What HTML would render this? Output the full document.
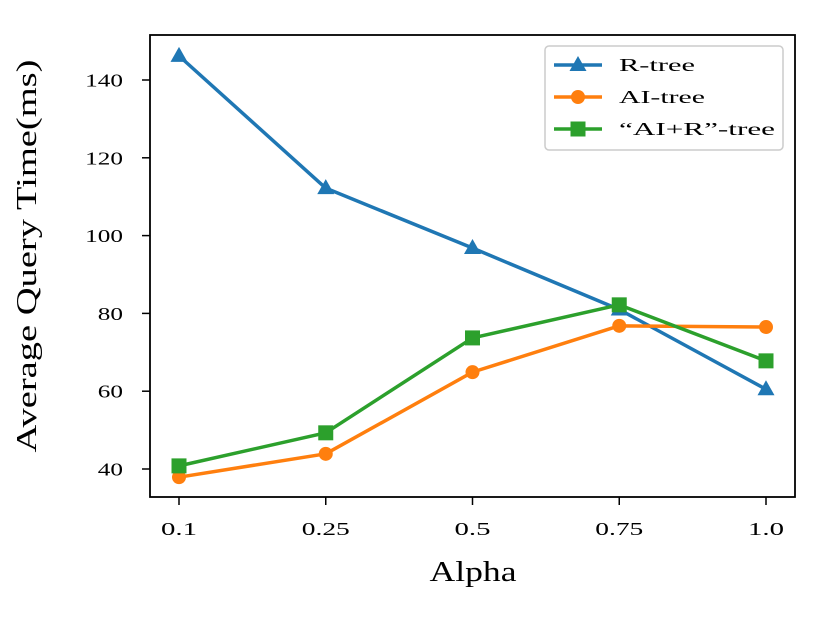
<!DOCTYPE html>
<html><head><meta charset="utf-8"><style>
html,body{margin:0;padding:0;background:#fff;}
svg{display:block;font-family:"Liberation Serif","DejaVu Serif",serif;}
</style></head><body>
<svg id="chart" width="831" height="623" viewBox="0 0 831 623">
<rect x="0" y="0" width="831" height="623" fill="#fff"/>
<g id="grid"></g>
<g id="series"></g>
<rect x="150" y="35" width="645" height="462" fill="none" stroke="#000" stroke-width="1.8"/>
<text x="473" y="581" font-size="28" text-anchor="middle" textLength="87" lengthAdjust="spacingAndGlyphs">Alpha</text>
<text transform="translate(36,256) rotate(-90)" font-size="28" text-anchor="middle" textLength="393" lengthAdjust="spacingAndGlyphs">Average Query Time(ms)</text>
<g id="legend">
<rect x="545" y="46" width="238" height="104" rx="4" fill="#fff" fill-opacity="0.8" stroke="#ccc" stroke-width="1.5"/>
</g>
</svg>
<script>
const categories = ["0.1","0.25","0.5","0.75","1.0"];
const yTicks = [40,60,80,100,120,140];
const rtree = [146.2,112.2,96.8,81.0,60.5];
const aitree = [37.9,43.9,64.9,76.8,76.5];
const airtree = [40.8,49.3,73.7,82.2,67.8];
const seriesNames = ["R-tree","AI-tree","\u201cAI+R\u201d-tree"];

const NS="http://www.w3.org/2000/svg";
const gAx=document.getElementById('grid');
const gS=document.getElementById('series');
const gL=document.getElementById('legend');
function x(i){return 179+i*146.75;}
function y(v){return 469-(v-40)*3.89;}
function mk(tag,attrs,parent){const e=document.createElementNS(NS,tag);for(const k in attrs)e.setAttribute(k,attrs[k]);parent.appendChild(e);return e;}

categories.forEach((c,i)=>{
  const t=mk('line',{x1:x(i),x2:x(i),y1:497,y2:505,stroke:'#000','stroke-width':1.5},gAx);
  
  
  const l=mk('text',{x:x(i),y:535,'font-size':18,'text-anchor':'middle',textLength:c.length*12,lengthAdjust:'spacingAndGlyphs'},gAx);
  l.textContent=c;
  
  
});
yTicks.forEach(v=>{
  const t=mk('line',{x1:142,x2:150,y1:y(v),y2:y(v),stroke:'#000','stroke-width':1.5},gAx);
  
  
  const s=String(v);
  const l=mk('text',{x:123,y:y(v)+6.5,'font-size':18,'text-anchor':'end',textLength:s.length*12.6,lengthAdjust:'spacingAndGlyphs'},gAx);
  l.textContent=s;
  
  
});

function marker(type,cx,cy,color,parent){
  let m;
  if(type==='tri') m=mk('polygon',{points:`${cx},${cy-9} ${cx-8.5},${cy+6} ${cx+8.5},${cy+6}`,fill:color},parent);
  else if(type==='circ') m=mk('circle',{cx:cx,cy:cy,r:7,fill:color},parent);
  else m=mk('rect',{x:cx-7.5,y:cy-7.5,width:15,height:15,fill:color},parent);
  return m;
}
const defs=[[rtree,'#1f77b4','tri','r-tree'],[aitree,'#ff7f0e','circ','ai-tree'],[airtree,'#2ca02c','sq','ai-r-tree']];
const legendLens=[76,86,156];
defs.forEach(([data,color,mt,name])=>{
  const g=mk('g',{},gS);
  
  
  const p=mk('polyline',{points:data.map((v,i)=>x(i)+','+y(v)).join(' '),fill:'none',stroke:color,'stroke-width':3.5,'stroke-linejoin':'round'},g);
  
  
  data.forEach((v,i)=>{
    const m=marker(mt,x(i),y(v),color,g);
    
    
  });
});
defs.forEach(([data,color,mt,name],k)=>{
  const yy=65+k*32;
  const l=mk('line',{x1:554,x2:602,y1:yy,y2:yy,stroke:color,'stroke-width':3.5},gL);
  
  
  const m=marker(mt,578,yy,color,gL);
  
  
  const t=mk('text',{x:619,y:yy+6,'font-size':18,textLength:legendLens[k],lengthAdjust:'spacingAndGlyphs'},gL);
  t.textContent=seriesNames[k];
  
  
});
</script>
</body></html>
